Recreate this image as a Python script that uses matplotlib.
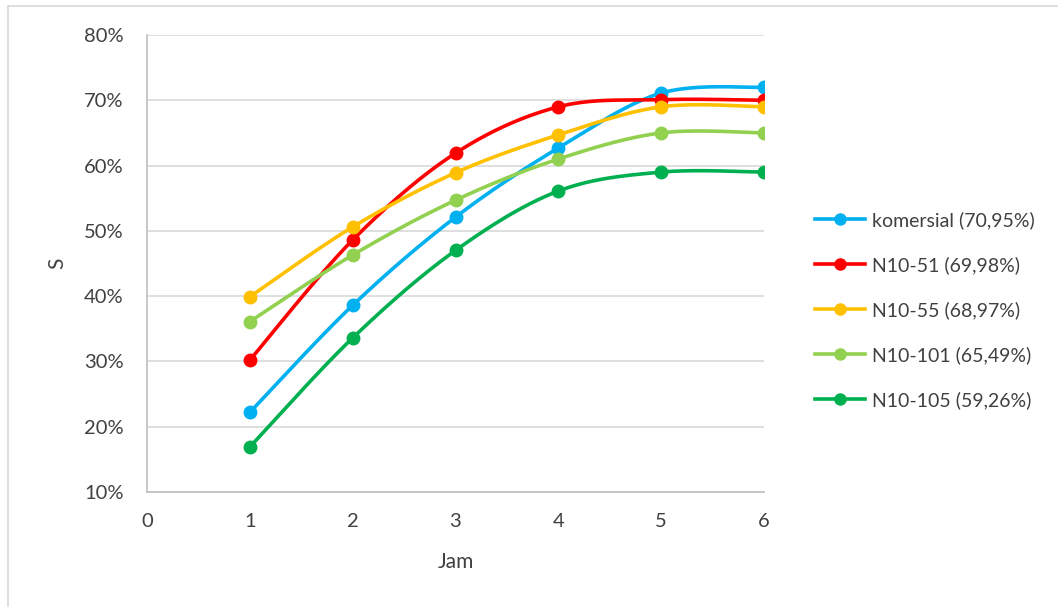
import numpy as np
import matplotlib
matplotlib.use("Agg")
import matplotlib.pyplot as plt
from matplotlib.lines import Line2D
from matplotlib.ticker import FuncFormatter

plt.rcParams['font.family'] = ['Lato', 'DejaVu Sans']

jam = [1, 2, 3, 4, 5, 6]
labels = ["komersial (70,95%)", "N10-51 (69,98%)", "N10-55 (68,97%)",
          "N10-101 (65,49%)", "N10-105 (59,26%)"]
komersial = [22.2, 38.6, 52.1, 62.7, 71.1, 72.0]
n10_51 = [30.2, 48.6, 61.9, 69.0, 70.1, 70.0]
n10_55 = [39.9, 50.6, 58.9, 64.7, 69.0, 69.0]
n10_101 = [36.1, 46.3, 54.7, 61.0, 65.0, 65.0]
n10_105 = [16.9, 33.6, 47.0, 56.1, 59.0, 59.0]
series = [komersial, n10_51, n10_55, n10_101, n10_105]
colors = ["#00B0F0", "#FF0000", "#FFC000", "#92D050", "#00B050"]


def smooth(xs, ys, n=40):
    """Cardinal-spline smoothing through every point (Bezier segments)."""
    xs = np.asarray(xs, float)
    ys = np.asarray(ys, float)
    P = np.column_stack([xs, ys])
    out = [P[0]]
    t = np.linspace(0, 1, n)[1:]
    for i in range(len(P) - 1):
        p0 = P[i - 1] if i > 0 else P[i]
        p1 = P[i]
        p2 = P[i + 1]
        p3 = P[i + 2] if i + 2 < len(P) else P[i + 1]
        c1 = p1 + (p2 - p0) / 6.0
        c2 = p2 - (p3 - p1) / 6.0
        seg = ((1 - t) ** 3)[:, None] * p1 + (3 * (1 - t) ** 2 * t)[:, None] * c1 \
            + (3 * (1 - t) * t ** 2)[:, None] * c2 + (t ** 3)[:, None] * p2
        out.extend(seg)
    out = np.array(out)
    return out[:, 0], out[:, 1]


fig = plt.figure(figsize=(10.58, 6.07), dpi=100)
ax = fig.add_axes([147 / 1058, 1 - 492 / 607, (764 - 147) / 1058, (492 - 35) / 607])

handles = []
for ys, c, lab in zip(series, colors, labels):
    sx, sy = smooth(jam, ys)
    ax.plot(sx, sy, color=c, lw=2.6, solid_capstyle='round', zorder=3)
    ax.plot(jam, ys, 'o', color=c, ms=9, zorder=4)
    handles.append(Line2D([], [], color=c, lw=2.6, marker='o', ms=8, label=lab))

ax.set_xlim(0, 6)
ax.set_ylim(10, 80)
ax.set_xticks(range(0, 7))
ax.set_yticks(range(10, 81, 10))
ax.yaxis.set_major_formatter(FuncFormatter(lambda v, p: f"{v:.0f}%"))
ax.grid(axis='y', color='#D9D9D9', lw=1.2)
ax.set_axisbelow(True)
for s in ['top', 'right']:
    ax.spines[s].set_visible(False)
for s in ['left', 'bottom']:
    ax.spines[s].set_color('#BFBFBF')
    ax.spines[s].set_linewidth(1.2)
ax.tick_params(length=0, labelsize=14.5, colors='#404040')
ax.tick_params(axis='x', pad=15)
ax.tick_params(axis='y', pad=17)

ax.set_xlabel("Jam", fontsize=15, color='#404040')
ax.xaxis.set_label_coords(0.5, -(562 - 492) / (492 - 35), transform=ax.transAxes)
ax.set_ylabel("S", fontsize=15, color='#404040')
ax.yaxis.set_label_coords(-(147 - 57) / (764 - 147), 0.5, transform=ax.transAxes)
ax.xaxis.label.set_va('center')
ax.yaxis.label.set_va('center')

fig.legend(handles=handles, loc='upper left', bbox_to_anchor=(807 / 1058, 1 - 203 / 607),
           frameon=False, fontsize=14, labelcolor='#404040', handlelength=2.6,
           handletextpad=0.35, labelspacing=1.4, borderaxespad=0)

# outer chart frame
fig.add_artist(Line2D([8 / 1058, 8 / 1058], [0, 1 - 6 / 607], transform=fig.transFigure,
                      color='#D9D9D9', lw=1.2))
fig.add_artist(Line2D([8 / 1058, 1], [1 - 6 / 607, 1 - 6 / 607], transform=fig.transFigure,
                      color='#D9D9D9', lw=1.2))

fig.savefig("out.png", dpi=100, facecolor='white')
